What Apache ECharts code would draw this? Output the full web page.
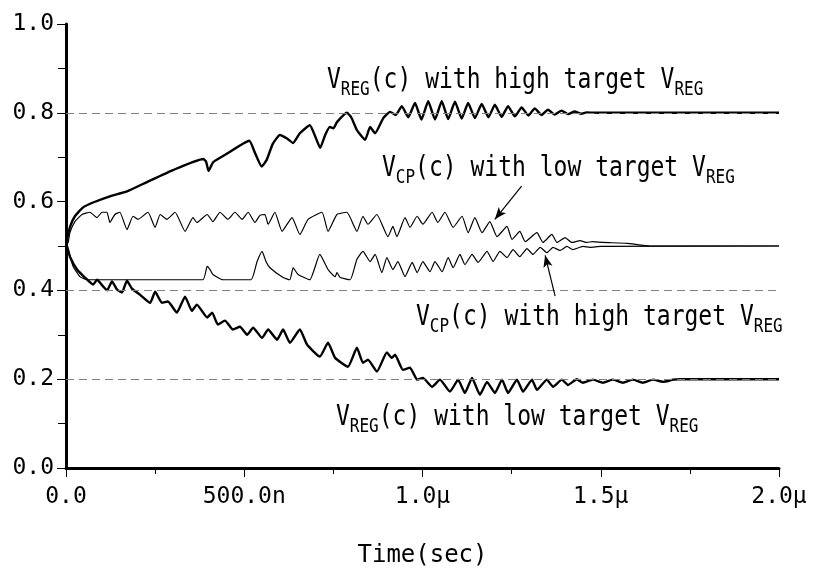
<!DOCTYPE html>
<html>
<head>
<meta charset="utf-8">
<script src="https://cdn.jsdelivr.net/npm/echarts@6/dist/echarts.min.js"></script>
<style>html,body{margin:0;padding:0;background:#fff;}#c{width:813px;height:575px;}</style>
</head>
<body>
<div id="c"></div>
<script>
const xTickLabels = ['0.0', '500.0n', '1.0\u03bc', '1.5\u03bc', '2.0\u03bc'];
const yTickLabels = ['0.0', '0.2', '0.4', '0.6', '0.8', '1.0'];
const targetLevels = [0.2, 0.4, 0.8];
const xTitle = 'Time(sec)';

// V_REG(c) with high target V_REG  (time in us, volts)
const vregHigh = [[0,0.50],[0.003,0.515],[0.012,0.545],[0.025,0.567],[0.048,0.587],[0.076,0.598],[0.123,0.612],[0.171,0.623],[0.227,0.644],[0.30,0.671],[0.385,0.696],[0.393,0.69],[0.400,0.669],[0.407,0.68],[0.413,0.689],[0.45,0.707],[0.514,0.737],[0.53,0.71],[0.549,0.679],[0.563,0.694],[0.58,0.73],[0.60,0.75],[0.62,0.742],[0.637,0.732],[0.656,0.754],[0.684,0.772],[0.70,0.745],[0.713,0.721],[0.727,0.75],[0.74,0.768],[0.75,0.765],[0.76,0.779],[0.788,0.80],[0.80,0.79],[0.816,0.761],[0.839,0.739],[0.853,0.768],[0.867,0.754],[0.89,0.788],[0.909,0.802],[0.925,0.795],[0.942,0.815],[0.96,0.79],[0.979,0.822],[0.997,0.785],[1.016,0.826],[1.035,0.785],[1.054,0.826],[1.072,0.786],[1.091,0.825],[1.11,0.787],[1.128,0.822],[1.147,0.788],[1.166,0.82],[1.185,0.79],[1.203,0.818],[1.222,0.791],[1.24,0.815],[1.259,0.792],[1.278,0.812],[1.297,0.794],[1.315,0.81],[1.334,0.795],[1.352,0.807],[1.371,0.796],[1.39,0.805],[1.408,0.797],[1.427,0.803],[1.445,0.798],[1.46,0.801],[1.5,0.8],[2.0,0.8]];

// V_CP(c) with low target V_REG
const vcpLow = [[0,0.5],[0.006,0.508],[0.011,0.53],[0.025,0.555],[0.045,0.571],[0.067,0.576],[0.087,0.564],[0.101,0.576],[0.115,0.576],[0.123,0.553],[0.137,0.571],[0.151,0.576],[0.171,0.537],[0.188,0.567],[0.202,0.56],[0.23,0.576],[0.25,0.542],[0.264,0.571],[0.283,0.56],[0.306,0.576],[0.334,0.533],[0.356,0.564],[0.367,0.553],[0.396,0.571],[0.412,0.555],[0.432,0.576],[0.454,0.56],[0.474,0.576],[0.494,0.56],[0.511,0.576],[0.53,0.553],[0.544,0.569],[0.558,0.571],[0.567,0.549],[0.586,0.576],[0.606,0.533],[0.634,0.564],[0.656,0.526],[0.679,0.56],[0.718,0.576],[0.735,0.533],[0.76,0.571],[0.788,0.576],[0.816,0.533],[0.833,0.567],[0.847,0.549],[0.872,0.571],[0.903,0.521],[0.917,0.544],[0.928,0.521],[0.951,0.564],[0.965,0.542],[0.985,0.567],[1.001,0.549],[1.027,0.576],[1.043,0.553],[1.063,0.576],[1.086,0.542],[1.111,0.567],[1.128,0.53],[1.147,0.564],[1.167,0.53],[1.189,0.555],[1.209,0.521],[1.237,0.544],[1.251,0.515],[1.273,0.533],[1.288,0.51],[1.321,0.53],[1.338,0.508],[1.363,0.526],[1.377,0.508],[1.4,0.519],[1.419,0.508],[1.442,0.512],[1.461,0.508],[1.478,0.51],[1.506,0.508],[1.574,0.506],[1.638,0.5],[2.0,0.5]];

// V_CP(c) with high target V_REG
const vcpHigh = [[0,0.5],[0.006,0.492],[0.02,0.454],[0.039,0.431],[0.059,0.424],[0.384,0.424],[0.396,0.454],[0.404,0.447],[0.412,0.436],[0.44,0.424],[0.519,0.424],[0.536,0.465],[0.55,0.488],[0.561,0.465],[0.572,0.451],[0.609,0.429],[0.628,0.424],[0.637,0.451],[0.651,0.436],[0.684,0.424],[0.712,0.481],[0.735,0.447],[0.755,0.431],[0.76,0.44],[0.769,0.429],[0.797,0.424],[0.816,0.47],[0.833,0.488],[0.853,0.465],[0.867,0.481],[0.886,0.44],[0.9,0.474],[0.917,0.447],[0.931,0.465],[0.951,0.431],[0.971,0.463],[0.985,0.44],[1.001,0.465],[1.021,0.442],[1.035,0.465],[1.055,0.442],[1.072,0.474],[1.086,0.451],[1.105,0.481],[1.119,0.458],[1.139,0.481],[1.156,0.463],[1.181,0.488],[1.198,0.465],[1.217,0.488],[1.237,0.474],[1.254,0.492],[1.273,0.476],[1.293,0.494],[1.31,0.481],[1.33,0.497],[1.349,0.485],[1.366,0.497],[1.386,0.49],[1.405,0.499],[1.422,0.492],[1.45,0.499],[1.47,0.497],[1.5,0.499],[2.0,0.5]];

// V_REG(c) with low target V_REG
const vregLow = [[0,0.5],[0.003,0.499],[0.011,0.476],[0.031,0.447],[0.053,0.429],[0.076,0.413],[0.087,0.424],[0.104,0.409],[0.115,0.4],[0.129,0.42],[0.143,0.402],[0.157,0.395],[0.171,0.422],[0.185,0.404],[0.208,0.39],[0.236,0.372],[0.25,0.397],[0.269,0.372],[0.286,0.375],[0.311,0.35],[0.334,0.386],[0.353,0.354],[0.367,0.368],[0.396,0.339],[0.41,0.35],[0.426,0.323],[0.446,0.332],[0.468,0.312],[0.488,0.318],[0.508,0.3],[0.525,0.316],[0.55,0.293],[0.567,0.312],[0.592,0.289],[0.609,0.312],[0.628,0.282],[0.656,0.312],[0.676,0.278],[0.712,0.251],[0.735,0.282],[0.755,0.248],[0.791,0.228],[0.816,0.271],[0.833,0.237],[0.847,0.244],[0.872,0.217],[0.9,0.26],[0.914,0.248],[0.923,0.255],[0.945,0.221],[0.965,0.226],[0.985,0.199],[1.001,0.203],[1.027,0.183],[1.049,0.199],[1.077,0.172],[1.1,0.199],[1.119,0.169],[1.139,0.203],[1.161,0.165],[1.181,0.194],[1.203,0.169],[1.223,0.199],[1.24,0.169],[1.265,0.199],[1.282,0.172],[1.307,0.199],[1.321,0.176],[1.349,0.199],[1.366,0.183],[1.391,0.199],[1.408,0.187],[1.433,0.2],[1.45,0.192],[1.478,0.199],[1.506,0.192],[1.534,0.199],[1.562,0.192],[1.59,0.199],[1.618,0.192],[1.647,0.199],[1.675,0.194],[1.703,0.199],[1.722,0.2],[2.0,0.2]];

// annotation arrows (data coords: start, tip)
const arrowLow = [[1.278, 0.635], [1.203, 0.56]];
const arrowHigh = [[1.372, 0.387], [1.344, 0.479]];

// annotation texts
const labelTexts = [
  '{b|V}{s|REG}{b|(c) with high target V}{c|REG}',
  '{b|V}{s|CP}{b|(c) with low target V}{c|REG}',
  '{b|V}{s|CP}{b|(c) with high target V}{c|REG}',
  '{b|V}{s|REG}{b|(c) with low target V}{c|REG}'
];
const labelPos = [[327, 62], [382, 150], [416, 299], [336, 399]];

const FONT = '"DejaVu Sans Mono", "Liberation Mono", monospace';
const chart = echarts.init(document.getElementById('c'), null, {renderer: 'canvas'});

const rich = {
  b: {fontFamily: FONT, fontSize: 23, lineHeight: 30, color: '#000'},
  s: {fontFamily: FONT, fontSize: 16, lineHeight: 16, verticalAlign: 'bottom', color: '#000'},
  c: {fontFamily: FONT, fontSize: 16, lineHeight: 26, verticalAlign: 'bottom', color: '#000'}
};

function lineSeries(name, data, width, extra) {
  return Object.assign({
    name: name, type: 'line', data: data, showSymbol: false, symbol: 'none',
    smooth: 0.15, silent: true,
    lineStyle: {color: '#000', width: width}, z: 3
  }, extra || {});
}

const option = {
  animation: false,
  backgroundColor: '#fff',
  grid: {left: 66, right: 34, top: 24, bottom: 107, containLabel: false},
  xAxis: {
    type: 'value', min: 0, max: 2, interval: 0.5,
    name: xTitle, nameLocation: 'middle', nameGap: 76,
    nameTextStyle: {fontFamily: FONT, fontSize: 24, color: '#000'},
    axisLine: {show: true, onZero: false, lineStyle: {color: '#000', width: 3}},
    axisTick: {show: true, length: 9, lineStyle: {color: '#000', width: 1}},
    minorTick: {show: true, splitNumber: 2, length: 6, lineStyle: {color: '#000', width: 1}},
    axisLabel: {margin: 18, fontFamily: FONT, fontSize: 23, color: '#000',
      formatter: function (v) { return xTickLabels[Math.round(v / 0.5)]; }},
    splitLine: {show: false}
  },
  yAxis: {
    type: 'value', min: 0, max: 1, interval: 0.2,
    axisLine: {show: true, onZero: false, lineStyle: {color: '#000', width: 3}},
    axisTick: {show: true, length: 9, lineStyle: {color: '#000', width: 1}},
    minorTick: {show: true, splitNumber: 2, length: 8, lineStyle: {color: '#000', width: 1}},
    axisLabel: {margin: 12, fontFamily: FONT, fontSize: 23, color: '#000',
      formatter: function (v) { return yTickLabels[Math.round(v / 0.2)]; }},
    splitLine: {show: false}
  },
  series: [
    lineSeries('VREG high', vregHigh, 2.4, {
      markLine: {
        silent: true, symbol: 'none', label: {show: false},
        lineStyle: {color: '#808080', type: [8, 5], width: 1},
        data: targetLevels.map(function (v) { return {yAxis: v}; })
      }
    }),
    lineSeries('VCP low', vcpLow, 1.2, {
      markLine: {
        silent: true, symbol: ['none', 'arrow'], symbolSize: [7, 12], label: {show: false},
        lineStyle: {color: '#000', type: 'solid', width: 1.2},
        data: [[{coord: arrowLow[0]}, {coord: arrowLow[1]}]]
      }
    }),
    lineSeries('VCP high', vcpHigh, 1.2, {
      markLine: {
        silent: true, symbol: ['none', 'arrow'], symbolSize: [7, 12], label: {show: false},
        lineStyle: {color: '#000', type: 'solid', width: 1.2},
        data: [[{coord: arrowHigh[0]}, {coord: arrowHigh[1]}]]
      }
    }),
    lineSeries('VREG low', vregLow, 2.4)
  ],
  graphic: labelTexts.map(function (t, i) {
    return {
      type: 'text', x: labelPos[i][0], y: labelPos[i][1], scaleY: 1.25, silent: true, z: 10,
      style: {text: t, rich: rich, fill: '#000', font: '23px ' + FONT, verticalAlign: 'top', align: 'left'}
    };
  })
};
chart.setOption(option);
</script>
</body>
</html>
